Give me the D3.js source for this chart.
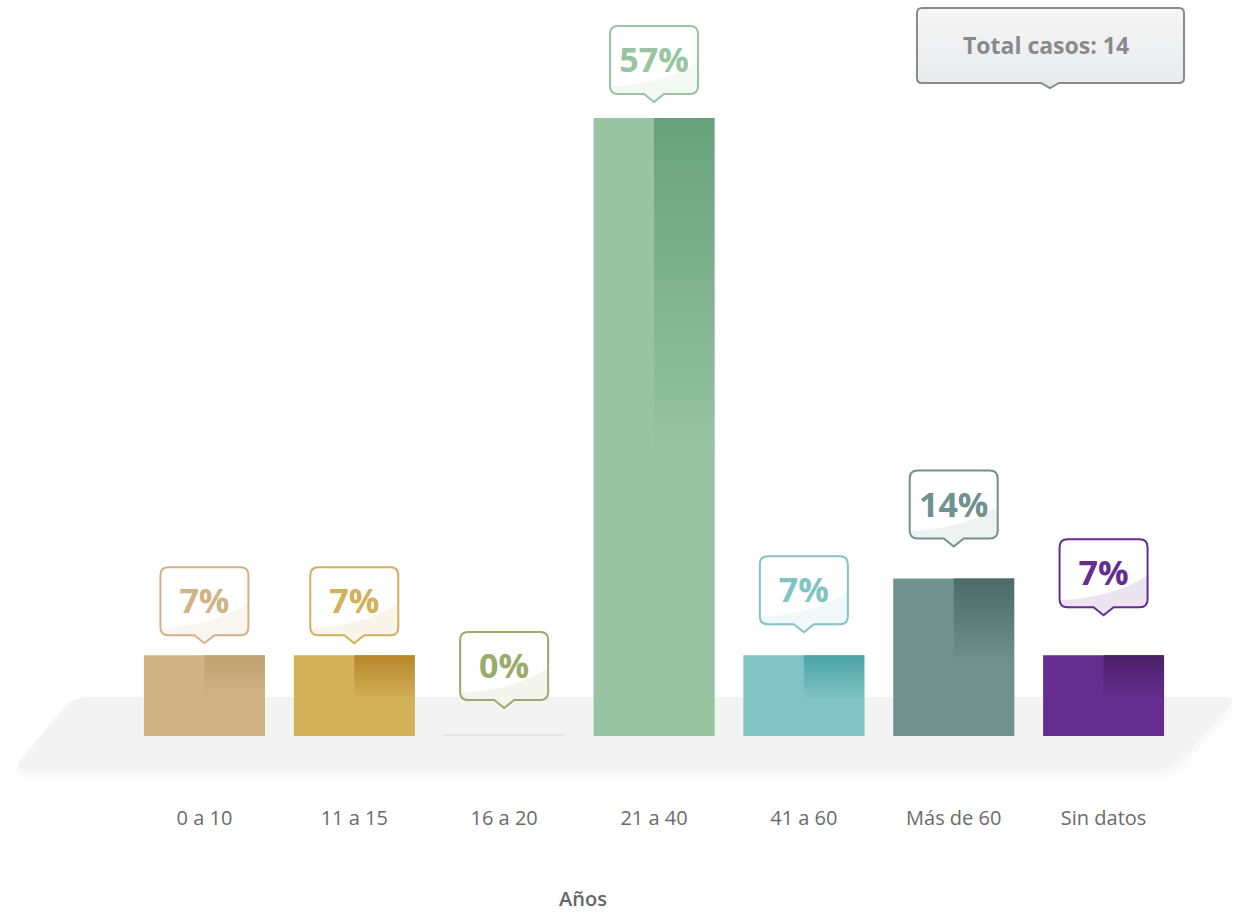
<!DOCTYPE html>
<html>
<head>
<meta charset="utf-8">
<script src="https://cdn.jsdelivr.net/npm/d3@7"></script>
<style>
  body { margin: 0; background: #fff; }
  svg { display: block; font-family: "Open Sans", sans-serif; }
</style>
</head>
<body>
<div id="chart"></div>
<script>
// datos del grafico
var categories = ["0 a 10", "11 a 15", "16 a 20", "21 a 40", "41 a 60", "Más de 60", "Sin datos"];
var counts = [1, 1, 0, 8, 1, 2, 1];
var totalCases = 14;
var baseColors = ["#d1b385", "#d3b05a", "#9aab6b", "#98c4a2", "#80c4c5", "#71918f", "#652d8f"];
var topColors  = ["#c2a172", "#b7872b", "#8a9a5c", "#68a27a", "#4ba2a5", "#4c6a67", "#4a2066"];
// how far each callout floats above its bar
var calloutLift = [12, 12, 28, 16, 23, 32, 40];

var width = 1239, height = 914;
var barBase = 736;

var percents = counts.map(function (c) { return c / totalCases * 100; });

var x = d3.scaleBand()
    .domain(categories)
    .range([129.5, 1178.5])
    .paddingInner(0.193)
    .paddingOuter(0.0965);

var y = d3.scaleLinear()
    .domain([0, d3.max(percents)])
    .range([barBase - 4, 118]);

var svg = d3.select("#chart").append("svg")
    .attr("width", width)
    .attr("height", height);

var defs = svg.append("defs");

var shadow = defs.append("filter").attr("id", "floorShadow")
    .attr("x", "-5%").attr("y", "-20%").attr("width", "110%").attr("height", "160%");
shadow.append("feDropShadow")
    .attr("dx", 0).attr("dy", 6).attr("stdDeviation", 5)
    .attr("flood-color", "#000").attr("flood-opacity", 0.035);

categories.forEach(function (c, i) {
    var g = defs.append("linearGradient").attr("id", "grad" + i)
        .attr("x1", 0).attr("y1", 0).attr("x2", 0).attr("y2", 1);
    g.append("stop").attr("offset", "0%").attr("stop-color", topColors[i]);
    g.append("stop").attr("offset", "55%").attr("stop-color", baseColors[i]);
    g.append("stop").attr("offset", "100%").attr("stop-color", baseColors[i]);
});

var totalGrad = defs.append("linearGradient").attr("id", "totalGrad")
    .attr("x1", 0).attr("y1", 0).attr("x2", 0).attr("y2", 1);
totalGrad.append("stop").attr("offset", "0%").attr("stop-color", "#f6f6f7");
totalGrad.append("stop").attr("offset", "100%").attr("stop-color", "#e9eaeb");

// polygon with rounded corners
function roundedPoly(pts, r) {
    var n = pts.length, d = "";
    for (var i = 0; i < n; i++) {
        var p = pts[i], prev = pts[(i - 1 + n) % n], next = pts[(i + 1) % n];
        var l1 = Math.hypot(prev[0] - p[0], prev[1] - p[1]);
        var l2 = Math.hypot(next[0] - p[0], next[1] - p[1]);
        var a = [p[0] + (prev[0] - p[0]) * r / l1, p[1] + (prev[1] - p[1]) * r / l1];
        var b = [p[0] + (next[0] - p[0]) * r / l2, p[1] + (next[1] - p[1]) * r / l2];
        d += (i === 0 ? "M" : "L") + a[0] + "," + a[1] + "Q" + p[0] + "," + p[1] + " " + b[0] + "," + b[1];
    }
    return d + "Z";
}

// suelo
svg.append("path")
    .attr("d", roundedPoly([[73, 697], [1238, 697], [1173, 770], [12, 770]], 14))
    .attr("fill", "#f3f3f3")
    .attr("filter", "url(#floorShadow)");

// barras
var bars = svg.append("g").selectAll("g")
    .data(categories)
    .enter().append("g");

bars.each(function (c, i) {
    var g = d3.select(this);
    var v = percents[i];
    var x0 = x(c), bw = x.bandwidth();
    if (v === 0) {
        g.append("rect")
            .attr("x", x0).attr("y", barBase - 1.5)
            .attr("width", bw).attr("height", 1)
            .attr("fill", baseColors[i]).attr("opacity", 0.3);
        return;
    }
    var top = y(v), h = barBase - top;
    g.append("rect")
        .attr("x", x0).attr("y", top)
        .attr("width", bw).attr("height", h)
        .attr("fill", baseColors[i]);
    g.append("rect")
        .attr("x", x0 + bw / 2).attr("y", top)
        .attr("width", bw / 2).attr("height", h)
        .attr("fill", "url(#grad" + i + ")");
});

// globos con porcentaje
var bw = 88, bh = 68, tail = 8, tw = 10, rr = 8;
function bubblePath() {
    var l = -bw / 2, r = bw / 2, t = -bh - tail, b = -tail;
    return "M" + (l + rr) + "," + t +
        "H" + (r - rr) + "Q" + r + "," + t + " " + r + "," + (t + rr) +
        "V" + (b - rr) + "Q" + r + "," + b + " " + (r - rr) + "," + b +
        "H" + tw + "L0,0L" + (-tw) + "," + b +
        "H" + (l + rr) + "Q" + l + "," + b + " " + l + "," + (b - rr) +
        "V" + (t + rr) + "Q" + l + "," + t + " " + (l + rr) + "," + t + "Z";
}
function sheenPath() {
    var l = -bw / 2, r = bw / 2, t = -bh - tail, b = -tail;
    return "M" + l + "," + (t + 61) +
        "Q" + (l + 55) + "," + (t + 58) + " " + r + "," + (t + 36) +
        "V" + (b - rr) + "Q" + r + "," + b + " " + (r - rr) + "," + b +
        "H" + tw + "L0,0L" + (-tw) + "," + b +
        "H" + (l + rr) + "Q" + l + "," + b + " " + l + "," + (b - rr) + "Z";
}

var callouts = svg.append("g").selectAll("g")
    .data(categories)
    .enter().append("g")
    .attr("transform", function (c, i) {
        var top = percents[i] === 0 ? barBase : y(percents[i]);
        return "translate(" + (x(c) + x.bandwidth() / 2) + "," + (top - calloutLift[i]) + ")";
    });

callouts.append("path")
    .attr("d", bubblePath())
    .attr("fill", "#fff");
callouts.append("path")
    .attr("d", sheenPath())
    .attr("fill", function (c, i) { return baseColors[i]; })
    .attr("opacity", 0.12);
callouts.append("path")
    .attr("d", bubblePath())
    .attr("fill", "none")
    .attr("stroke", function (c, i) { return baseColors[i]; })
    .attr("stroke-width", 2);
callouts.append("text")
    .attr("text-anchor", "middle")
    .attr("y", -bh - tail + 46)
    .attr("font-size", 34)
    .attr("font-weight", 700)
    .attr("fill", function (c, i) { return baseColors[i]; })
    .text(function (c, i) { return Math.round(percents[i]) + "%"; });

// eje x
var xAxis = svg.append("g")
    .attr("transform", "translate(0,798)")
    .call(d3.axisBottom(x).tickSize(0).tickPadding(0));
xAxis.select(".domain").remove();
xAxis.selectAll("text")
    .attr("dy", 0).attr("y", 27)
    .attr("font-family", "Open Sans, sans-serif")
    .attr("font-size", 20)
    .attr("fill", "#6b6b6b");

svg.append("text")
    .attr("x", 583).attr("y", 906)
    .attr("text-anchor", "middle")
    .attr("font-size", 20)
    .attr("font-weight", 600)
    .attr("fill", "#666")
    .text("Años");

// total casos
var total = svg.append("g").attr("transform", "translate(1050,88)");
var tl = -133, tr = 134, tt = -80, tb = -5, tr2 = 5;
total.append("path")
    .attr("d", "M" + (tl + tr2) + "," + tt + "H" + (tr - tr2) + "Q" + tr + "," + tt + " " + tr + "," + (tt + tr2) +
        "V" + (tb - tr2) + "Q" + tr + "," + tb + " " + (tr - tr2) + "," + tb +
        "H9L0,0L-9," + tb + "H" + (tl + tr2) + "Q" + tl + "," + tb + " " + tl + "," + (tb - tr2) +
        "V" + (tt + tr2) + "Q" + tl + "," + tt + " " + (tl + tr2) + "," + tt + "Z")
    .attr("fill", "url(#totalGrad)")
    .attr("stroke", "#8a8a8a")
    .attr("stroke-width", 2);
total.append("text")
    .attr("x", -4).attr("y", -34)
    .attr("text-anchor", "middle")
    .attr("font-size", 23)
    .attr("font-weight", 700)
    .attr("fill", "#8a8a8a")
    .text("Total casos: " + totalCases);
</script>
</body>
</html>
